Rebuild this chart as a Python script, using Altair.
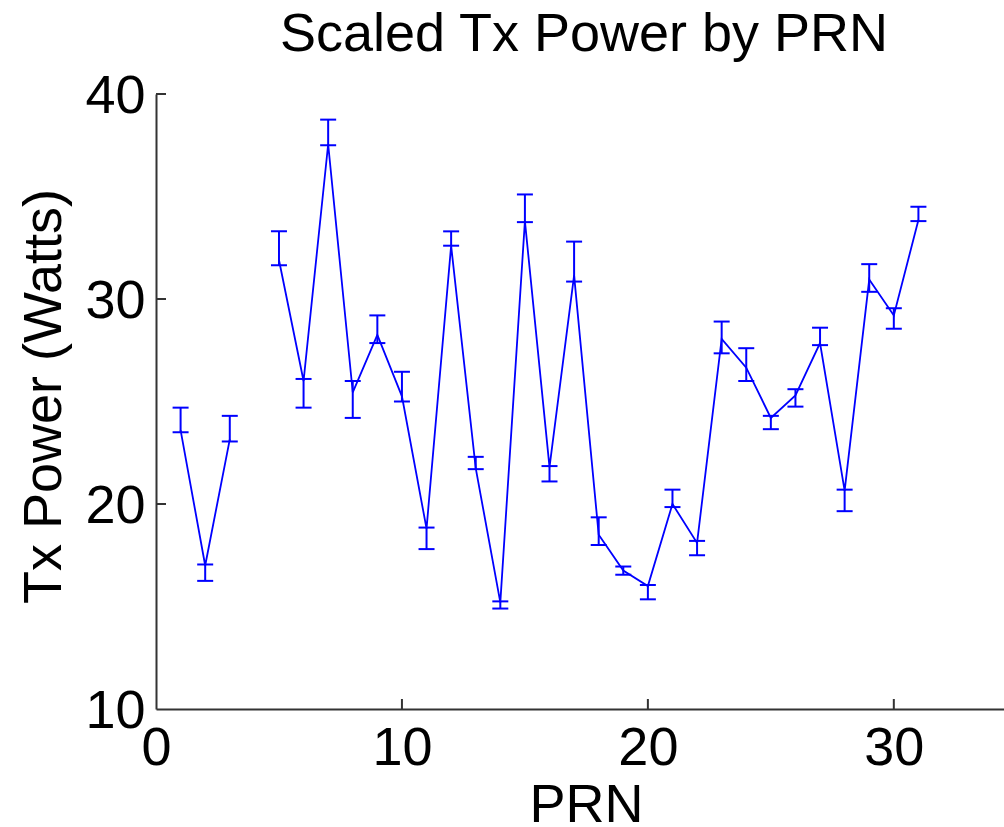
import altair as alt
import pandas as pd

# ---- data ----
prn = [1, 2, 3, 5, 6, 7, 8, 9, 10, 11, 12, 13, 14, 15, 16, 17, 18, 19, 20,
       21, 22, 23, 24, 25, 26, 27, 28, 29, 30, 31]
power = [23.6, 17.0, 23.15, 31.9, 26.0, 37.55, 25.45, 28.25, 25.25, 18.8,
         32.6, 21.75, 15.2, 33.8, 21.8, 31.15, 18.5, 16.75, 16.0, 20.0,
         18.1, 28.05, 26.65, 24.2, 25.3, 27.85, 20.65, 30.95, 29.2, 33.85]
err_low = [23.5, 16.25, 23.05, 31.65, 24.7, 37.5, 24.2, 27.85, 25.0, 17.8,
           32.6, 21.7, 14.9, 33.75, 21.1, 30.85, 18.0, 16.55, 15.35, 19.85,
           17.5, 27.35, 26.0, 23.65, 24.75, 27.75, 19.65, 30.35, 28.55, 33.8]
err_high = [24.7, 17.05, 24.3, 33.3, 26.1, 38.75, 26.0, 29.2, 26.45, 18.85,
            33.3, 22.3, 15.25, 35.1, 21.85, 32.8, 19.35, 16.95, 16.05, 20.7,
            18.2, 28.9, 27.6, 24.3, 25.6, 28.6, 20.7, 31.7, 29.55, 34.5]
segment = ["a" if p < 4 else "b" for p in prn]  # PRN 4 is missing: line breaks

x_ticks = [10, 20, 30]
y_ticks = [20, 30, 40]
title_text = ["Scaled Tx Power by PRN"]

df = pd.DataFrame({"PRN": prn, "Power": power, "Low": err_low,
                   "High": err_high, "seg": segment})
dfx = pd.DataFrame({"PRN": x_ticks})
dfy = pd.DataFrame({"Power": y_ticks})
dft = pd.DataFrame({"t": title_text})

FONT = "Liberation Sans"
BLUE = "#0000ff"
AXC = "#333333"
W, H = 848, 615

xscale = alt.Scale(domain=[0, 34.48], nice=False, zero=False)
yscale = alt.Scale(domain=[10, 40], nice=False, zero=False)

xaxis = alt.Axis(title="PRN", values=[0, 10, 20, 30], ticks=False, grid=False,
                 domainColor=AXC, domainWidth=2, labelFont=FONT,
                 labelFontSize=54, labelColor="black", labelPadding=12,
                 labelFlush=False, labelOverlap=False,
                 titleFont=FONT, titleFontSize=54, titleFontWeight="normal",
                 titleColor="black", titleBaseline="alphabetic",
                 titleX=430, titleY=112, titleAnchor="middle", titleAlign="center")
yaxis = alt.Axis(title="Tx Power (Watts)", values=[10, 20, 30, 40], ticks=False,
                 grid=False, domainColor=AXC, domainWidth=2, labelFont=FONT,
                 labelFontSize=54, labelColor="black", labelPadding=11,
                 labelOffset=2, labelFlush=False, labelOverlap=False,
                 titleFont=FONT, titleFontSize=54, titleFontWeight="normal",
                 titleColor="black", titleBaseline="alphabetic", titleAngle=-90,
                 titleX=-96, titleY=302, titleAlign="center")

base = alt.Chart(df)

line = base.mark_line(color=BLUE, strokeWidth=1.8).encode(
    x=alt.X("PRN:Q", scale=xscale, axis=xaxis),
    y=alt.Y("Power:Q", scale=yscale, axis=yaxis),
    detail="seg:N",
)
bars = base.mark_rule(color=BLUE, strokeWidth=2).encode(
    x=alt.X("PRN:Q", scale=xscale, axis=xaxis),
    y=alt.Y("Low:Q", scale=yscale, axis=yaxis),
    y2="High:Q",
)
cap_lo = base.mark_tick(color=BLUE, orient="horizontal", size=16, thickness=2,
                        opacity=1).encode(
    x=alt.X("PRN:Q", scale=xscale, axis=xaxis),
    y=alt.Y("Low:Q", scale=yscale, axis=yaxis),
)
cap_hi = base.mark_tick(color=BLUE, orient="horizontal", size=16, thickness=2,
                        opacity=1).encode(
    x=alt.X("PRN:Q", scale=xscale, axis=xaxis),
    y=alt.Y("High:Q", scale=yscale, axis=yaxis),
)
xt = alt.Chart(dfx).mark_rule(color=AXC, strokeWidth=2).encode(
    x=alt.X("PRN:Q", scale=xscale, axis=xaxis),
    y=alt.value(H),
    y2=alt.value(H - 10),
)
yt = alt.Chart(dfy).mark_rule(color=AXC, strokeWidth=2).encode(
    y=alt.Y("Power:Q", scale=yscale, axis=yaxis),
    x=alt.value(0),
    x2=alt.value(10),
)
title = alt.Chart(dft).mark_text(font=FONT, fontSize=54, color="black",
                                 align="center", baseline="alphabetic").encode(
    text="t:N",
    x=alt.value(428),
    y=alt.value(-43),
)

chart = alt.layer(line, bars, cap_lo, cap_hi, xt, yt, title).properties(
    width=W,
    height=H,
    autosize="none",
    padding={"left": 156, "top": 94, "right": 0, "bottom": 118},
    background="white",
).configure_view(stroke=None)

chart.save("out.html", embed_options={"renderer": "svg", "actions": False})
